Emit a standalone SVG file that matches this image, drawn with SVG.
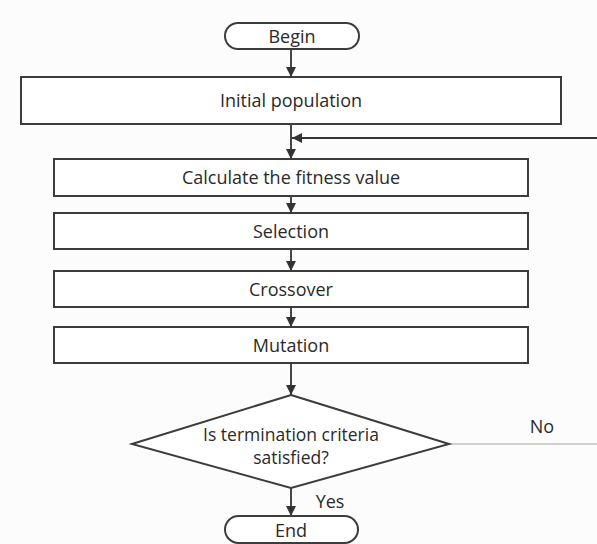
<svg xmlns="http://www.w3.org/2000/svg" width="597" height="544" viewBox="0 0 597 544">
<style>
.box{fill:#ffffff;stroke:#3c3c3c;stroke-width:2}
.lbl{font-family:"Open Sans","Liberation Sans",sans-serif;font-size:18px;fill:#2a2a2a;text-anchor:middle}
.dec{font-size:17.5px}
.con{stroke:#333;stroke-width:1.8;fill:none}
</style>
<defs>
<marker id="ah" viewBox="0 0 10 10" refX="10" refY="5" markerWidth="10" markerHeight="10" markerUnits="userSpaceOnUse" orient="auto">
<path d="M0,0 L10,5 L0,10 Z" fill="#333"/>
</marker>
</defs>
<rect width="597" height="544" fill="#fcfcfc"/>
<g id="connectors">
<line class="con" x1="291" y1="49" x2="291" y2="77" marker-end="url(#ah)"/>
<line class="con" x1="291" y1="124" x2="291" y2="159" marker-end="url(#ah)"/>
<line class="con" x1="597" y1="138" x2="292" y2="138" marker-end="url(#ah)"/>
<line class="con" x1="291" y1="196" x2="291" y2="213" marker-end="url(#ah)"/>
<line class="con" x1="291" y1="249" x2="291" y2="271" marker-end="url(#ah)"/>
<line class="con" x1="291" y1="307" x2="291" y2="327" marker-end="url(#ah)"/>
<line class="con" x1="291" y1="363" x2="291" y2="395" marker-end="url(#ah)"/>
<line class="con" x1="291" y1="488" x2="291" y2="516" marker-end="url(#ah)"/>
<line x1="449" y1="444" x2="597" y2="444" stroke="#d0d0d0" stroke-width="2"/>
<text class="lbl" x="542" y="433">No</text>
<text class="lbl" x="330" y="508">Yes</text>
</g>
<g id="begin">
<rect class="box" x="225" y="23" width="134" height="26" rx="13"/>
<text class="lbl" x="292" y="42.5">Begin</text>
</g>
<g id="initial">
<rect class="box" x="21" y="77" width="540" height="47"/>
<text class="lbl" x="291" y="107">Initial population</text>
</g>
<g id="fitness">
<rect class="box" x="54" y="159" width="474" height="37"/>
<text class="lbl" x="291" y="184">Calculate the fitness value</text>
</g>
<g id="selection">
<rect class="box" x="54" y="213" width="474" height="36"/>
<text class="lbl" x="291" y="237.5">Selection</text>
</g>
<g id="crossover">
<rect class="box" x="54" y="271" width="474" height="36"/>
<text class="lbl" x="291" y="295.5">Crossover</text>
</g>
<g id="mutation">
<rect class="box" x="54" y="327" width="474" height="36"/>
<text class="lbl" x="291" y="351.5">Mutation</text>
</g>
<g id="decision">
<polygon class="box" points="291,395 449,444 291,488 132,444"/>
<text class="lbl dec" x="291" y="441">Is termination criteria</text>
<text class="lbl dec" x="291" y="464">satisfied?</text>
</g>
<g id="end">
<rect class="box" x="225" y="516" width="133" height="27" rx="13.5"/>
<text class="lbl" x="291" y="537">End</text>
</g>
</svg>
